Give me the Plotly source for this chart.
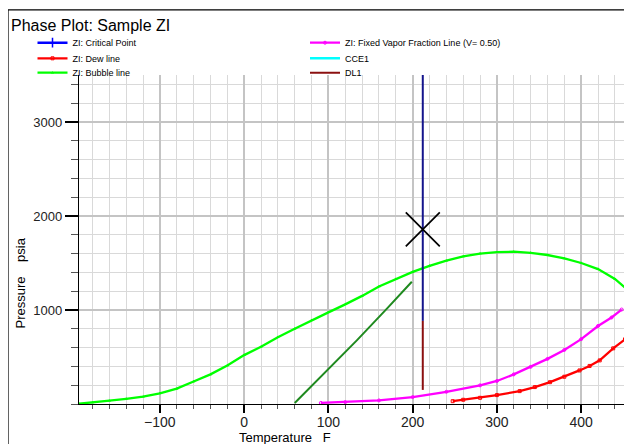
import plotly.graph_objects as go

# ---------------- data ----------------
bubble_T = [-196, -180, -160, -140, -120, -100, -80, -60, -40, -20, 0, 20, 40, 60, 80, 100,
            120, 140, 160, 180, 200, 220, 240, 260, 280, 300, 320, 340, 360, 380, 400, 420,
            440, 460]
bubble_P = [3, 15, 35, 55, 78, 114, 163, 240, 315, 410, 520, 610, 710, 800, 890, 975,
            1060, 1150, 1250, 1330, 1405, 1470, 1525, 1570, 1600, 1615, 1620, 1608, 1585,
            1548, 1500, 1435, 1330, 1175]

dew_T = [247.5, 260, 280, 300, 327, 345, 363, 380, 398, 410, 422, 438, 452, 460]
dew_P = [30, 45, 66, 95, 137, 180, 232, 290, 357, 405, 464, 592, 688, 765]

vf_T = [91, 120, 160, 200, 240, 280, 300, 320, 340, 360, 380, 400, 420, 436, 448]
vf_P = [12, 20, 38, 74, 130, 198, 245, 315, 395, 480, 575, 690, 830, 920, 1005]

dark_T = [60, 100, 134, 170, 199]
dark_P = [10, 370, 680, 1020, 1300]

crit_T = [212]
crit_P = [1857]

iso_T = [212, 212]
iso_P = [884, 3500]

dl1_T = [212, 212]
dl1_P = [150, 884]

x_ticks = [-100, 0, 100, 200, 300, 400]
y_ticks = [1000, 2000, 3000]

FONT = "Liberation Sans"

# the page places the figure 8px from the top-left corner of the window
OFF = 8
W, H = 632 - OFF, 444 - OFF
def fx(px):  # window pixel -> figure pixel
    return px - OFF

fig = go.Figure()

fig.add_trace(go.Scatter(x=dark_T, y=dark_P, mode="lines",
                         line=dict(color="#1f8a1f", width=2), showlegend=False, hoverinfo="skip"))
fig.add_trace(go.Scatter(x=bubble_T, y=bubble_P, mode="lines+markers",
                         line=dict(color="#00ff00", width=2.3),
                         marker=dict(symbol="triangle-up", size=3, color="#00ff00"),
                         name="ZI: Bubble line", legend="legend3", legendrank=1))
fig.add_trace(go.Scatter(x=vf_T, y=vf_P, mode="lines+markers",
                         line=dict(color="#ff00ff", width=2.3),
                         marker=dict(symbol="circle-open", size=3, color="#ff00ff"),
                         name="ZI: Fixed Vapor Fraction Line (V= 0.50)", legend="legend",
                         legendrank=2))
fig.add_trace(go.Scatter(x=dew_T, y=dew_P, mode="lines+markers",
                         line=dict(color="#ff0000", width=2.3),
                         marker=dict(symbol="square-open", size=3, color="#ff0000"),
                         name="ZI: Dew line", legend="legend2", legendrank=1))
fig.add_trace(go.Scatter(x=iso_T, y=iso_P, mode="lines",
                         line=dict(color="#14148c", width=2), showlegend=False, hoverinfo="skip"))
fig.add_trace(go.Scatter(x=dl1_T, y=dl1_P, mode="lines",
                         line=dict(color="#8b1010", width=2),
                         name="DL1", legend="legend3", legendrank=2))
fig.add_trace(go.Scatter(x=[None], y=[None], mode="lines",
                         line=dict(color="#00ffff", width=2.5),
                         name="CCE1", legend="legend2", legendrank=2))
fig.add_trace(go.Scatter(x=[None], y=[None], mode="lines+markers",
                         line=dict(color="#0000ff", width=2.5),
                         marker=dict(symbol="line-ns-open", size=7, color="#0000ff",
                                     line=dict(width=1.5, color="#0000ff")),
                         name="ZI: Critical Point", legend="legend", legendrank=1))
fig.add_trace(go.Scatter(x=crit_T, y=crit_P, mode="markers",
                         marker=dict(symbol="x-thin-open", size=34, color="black",
                                     line=dict(width=1.7, color="black")),
                         showlegend=False, hoverinfo="skip"))

leg_common = dict(orientation="h", xanchor="left", yanchor="middle",
                  xref="container", yref="container", x=fx(32.5) / W,
                  entrywidth=227.5, entrywidthmode="pixels",
                  bgcolor="rgba(0,0,0,0)", borderwidth=0,
                  font=dict(family=FONT, size=9, color="black"),
                  traceorder="normal")

plot_l, plot_t, plot_b = fx(79.3), fx(75.0), fx(403.6)
pw, ph = W - plot_l, plot_b - plot_t

fig.update_layout(
    width=W, height=H,
    margin=dict(l=plot_l, r=0, t=plot_t, b=H - plot_b, autoexpand=False),
    paper_bgcolor="white", plot_bgcolor="white",
    font=dict(family=FONT, size=13, color="#222"),
    title=dict(text="Phase Plot: Sample ZI", x=fx(11) / W, xanchor="left",
               y=1 - fx(25) / H, yanchor="middle", xref="container", yref="container",
               font=dict(family=FONT, size=16, color="black")),
    legend=dict(leg_common, y=1 - fx(42.7) / H),
    legend2=dict(leg_common, y=1 - fx(58.3) / H),
    legend3=dict(leg_common, y=1 - fx(72.7) / H),
    xaxis=dict(range=[-196, 460.3], tickmode="array", tickvals=x_ticks,
               showgrid=True, gridcolor="#c4c4c4", gridwidth=2,
               showline=True, linecolor="black", linewidth=1.3,
               ticks="outside", ticklen=8, tickwidth=2, tickcolor="black",
               ticklabelstandoff=-3,
               tickfont=dict(family=FONT, size=14, color="#222"),
               minor=dict(tickmode="linear", tick0=0, dtick=20, showgrid=True,
                          gridcolor="#d9d9d9", gridwidth=1.3,
                          ticks="outside", ticklen=4, tickwidth=1, tickcolor="#555"),
               zeroline=False, fixedrange=True),
    yaxis=dict(range=[0, 3500], tickmode="array", tickvals=y_ticks,
               showgrid=True, gridcolor="#c4c4c4", gridwidth=2,
               showline=True, linecolor="black", linewidth=1.3,
               ticks="outside", ticklen=13, tickwidth=2, tickcolor="black",
               tickfont=dict(family=FONT, size=13, color="#222"),
               minor=dict(tickmode="linear", tick0=0, dtick=200, showgrid=True,
                          gridcolor="#d9d9d9", gridwidth=1.3,
                          ticks="outside", ticklen=7, tickwidth=1, tickcolor="#555"),
               zeroline=False, fixedrange=True),
    annotations=[
        dict(text="Temperature   F", xref="paper", yref="paper",
             x=(fx(285) - plot_l) / pw, y=-(fx(437.5) - plot_b) / ph,
             xanchor="center", yanchor="middle",
             showarrow=False, font=dict(family=FONT, size=13, color="black")),
        dict(text="Pressure    psia", xref="paper", yref="paper",
             x=-(plot_l - fx(21)) / pw, y=(plot_b - fx(282.5)) / ph,
             xanchor="center", yanchor="middle",
             textangle=-90, showarrow=False, font=dict(family=FONT, size=13, color="black")),
    ],
    shapes=[dict(type="rect", xref="paper", yref="paper",
                 x0=-(plot_l - fx(8.3)) / pw, x1=1.2,
                 y0=-0.3, y1=(plot_b - fx(10)) / ph,
                 line=dict(color="black", width=1.3), layer="above")],
    showlegend=True,
)

fig.write_html("out.html")
